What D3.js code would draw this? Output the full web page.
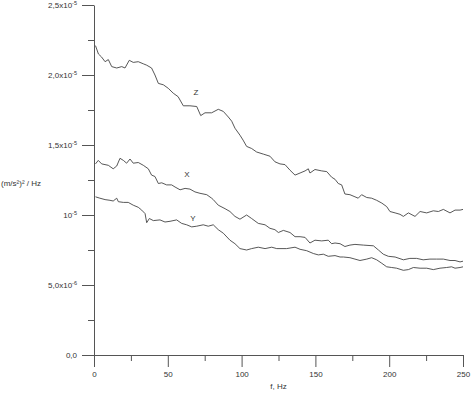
<!DOCTYPE html>
<html>
<head>
<meta charset="utf-8">
<script src="https://cdn.jsdelivr.net/npm/d3@7"></script>
<style>
  body { margin: 0; background: #fff; }
  text { font-family: "Liberation Sans", Arial, sans-serif; fill: #333; }
</style>
</head>
<body>
<div id="chart"></div>
<script>

// frequencies (Hz) and PSD values in units of 1e-6 (m/s²)²/Hz
const freqZ = [1, 3, 5, 7.5, 9.7, 12, 15.4, 18.8, 21, 23.9, 26.6, 30, 33.4, 35.7, 39, 41.3, 43.6, 47, 50.3, 53.7, 57, 60.5, 65, 69.6, 72.3, 75.2, 79.7, 84.2, 87.6, 91, 93.3, 95.5, 98.9, 101, 103.4, 106.8, 110.2, 114.7, 119.2, 122.6, 126, 129.4, 132.8, 136.2, 139.6, 143, 145.2, 146.3, 149.7, 154.3, 157.7, 161, 163.3, 165.5, 167.8, 170, 173.4, 176.8, 179, 181.3, 184.8, 188.1, 191.5, 195, 198.3, 200.5, 204, 207.3, 209.6, 213, 217.5, 220.9, 225.4, 229.9, 233.3, 236.7, 241.2, 244.6, 248, 250];
const psdZ = [22.1, 21.5, 21.3, 20.95, 21.1, 20.6, 20.5, 20.6, 20.5, 21.05, 20.9, 20.95, 20.8, 20.7, 20.5, 20.0, 19.4, 19.3, 19.05, 18.7, 18.45, 17.8, 17.8, 17.75, 17.1, 17.3, 17.3, 17.55, 17.4, 17.0, 16.7, 16.2, 15.7, 15.35, 14.9, 14.75, 14.5, 14.35, 14.2, 13.8, 13.65, 13.6, 13.2, 12.85, 13.0, 13.15, 13.3, 13.0, 13.25, 13.15, 13.1, 12.7, 12.55, 12.25, 12.15, 11.5, 11.45, 11.3, 11.2, 11.45, 11.25, 11.2, 11.05, 10.85, 10.6, 10.25, 10.15, 10.05, 9.9, 10.15, 9.9, 10.25, 10.15, 10.3, 10.25, 10.4, 10.15, 10.35, 10.35, 10.4];

const freqX = [1, 2.9, 5.2, 9.7, 13, 15.4, 17.6, 19.9, 22.1, 24.4, 26.6, 30, 33.4, 36.8, 39, 41.3, 43.6, 45.9, 49.2, 52.6, 54.9, 58.3, 61.7, 65, 68.4, 71.8, 76.4, 79.7, 80.8, 84.2, 88.8, 92.1, 95.5, 98.9, 103.4, 106.8, 111.3, 115.9, 119.2, 122.6, 124.9, 128.3, 132.8, 136.2, 139.6, 143, 146.3, 149.7, 154.3, 158.7, 161, 163.3, 166.7, 170, 173.4, 176.8, 182.5, 189.3, 192.7, 196, 199.4, 204, 209.6, 214, 218.6, 223, 227.6, 232.1, 236.7, 241.2, 244.6, 248, 250];
const psdX = [13.65, 13.9, 13.65, 13.55, 13.3, 13.5, 14.05, 13.9, 13.7, 14.0, 13.7, 13.75, 13.55, 13.3, 12.85, 12.75, 12.25, 12.3, 12.15, 12.15, 12.0, 11.8, 11.9, 11.85, 11.65, 11.55, 11.45, 11.2, 11.1, 10.7, 10.45, 10.25, 9.9, 9.7, 10.0, 9.75, 9.4, 9.3, 9.05, 8.95, 8.75, 8.9, 8.75, 8.45, 8.45, 8.4, 8.0, 8.2, 8.15, 8.2, 7.95, 8.0, 7.95, 7.75, 7.85, 7.9, 7.85, 7.8, 7.5, 7.2, 7.05, 7.0, 6.8, 6.9, 6.9, 6.8, 6.85, 6.85, 6.85, 6.75, 6.75, 6.65, 6.7];

const freqY = [1, 4, 7.5, 10.8, 13, 15.4, 16.5, 19.9, 23.2, 26.6, 30, 32.3, 34.6, 35.7, 37.5, 40.2, 44.7, 48.1, 51.5, 56, 59.4, 62.8, 66.2, 69.6, 74, 77.4, 80.8, 84.2, 87.6, 92.1, 95.5, 98.9, 103.4, 106.8, 111.3, 115.9, 120.4, 123.8, 130.5, 136.2, 139.6, 144.1, 148.6, 152, 155.4, 158.7, 163.3, 166.7, 169, 173.4, 176.8, 180.2, 184.8, 188.1, 191.5, 195, 198.3, 201.7, 205, 209.6, 213, 216.4, 220.9, 225.4, 229.9, 234.4, 238.9, 242.3, 244.6, 248, 250];
const psdY = [11.3, 11.2, 11.1, 11.05, 11.0, 11.2, 10.95, 10.9, 10.9, 10.7, 10.55, 10.35, 10.1, 9.45, 9.75, 9.6, 9.65, 9.5, 9.55, 9.65, 9.4, 9.3, 9.15, 9.2, 9.3, 9.2, 9.3, 8.95, 8.7, 8.2, 7.95, 7.6, 7.5, 7.6, 7.7, 7.6, 7.7, 7.6, 7.6, 7.7, 7.55, 7.45, 7.25, 7.15, 7.2, 7.05, 7.1, 7.0, 7.0, 6.95, 6.85, 6.75, 6.85, 6.95, 6.8, 6.55, 6.3, 6.25, 6.2, 6.05, 6.1, 6.25, 6.2, 6.2, 6.1, 6.2, 6.25, 6.3, 6.2, 6.25, 6.3];

const seriesNames = ["Z", "X", "Y"];
const labelFreq = [69, 63, 67];
const labelPsd = [18.8, 12.93, 9.76];

const xTicks = [0, 50, 100, 150, 200, 250];
const xMinorTicks = [25, 75, 125, 175, 225];
const yTicks = [0, 5, 10, 15, 20, 25];
const yMinorTicks = [2.5, 7.5, 12.5, 17.5, 22.5];
// tick labels: [mantissa text, exponent]
const yTickLabels = [["0,0", null], ["5,0x10", "-6"], ["10", "-5"], ["1,5x10", "-5"], ["2,0x10", "-5"], ["2,5x10", "-5"]];

const width = 472, height = 393;
const margin = {top: 5, right: 9, bottom: 38, left: 94};

const svg = d3.select("#chart").append("svg")
    .attr("width", width)
    .attr("height", height);

const x = d3.scaleLinear().domain([0, 250]).range([margin.left, width - margin.right]);
const y = d3.scaleLinear().domain([0, 25]).range([height - margin.bottom, margin.top]);

const axisColor = "#555";

// x axis
const xAxis = svg.append("g")
    .attr("transform", `translate(0,${y(0)})`)
    .call(d3.axisBottom(x).tickValues(xTicks).tickSize(12).tickSizeOuter(0).tickPadding(4));
xAxis.select(".domain").attr("stroke", axisColor);
xAxis.selectAll(".tick line").attr("stroke", axisColor);
xAxis.selectAll(".tick text")
    .attr("font-size", 8)
    .attr("font-family", "Liberation Sans, Arial, sans-serif")
    .attr("fill", "#444");

svg.append("g")
    .attr("transform", `translate(0,${y(0)})`)
    .call(d3.axisBottom(x).tickValues(xMinorTicks).tickSize(6).tickFormat(""))
    .call(g => g.select(".domain").remove())
    .selectAll(".tick line").attr("stroke", axisColor);

// y axis
const yAxis = svg.append("g")
    .attr("transform", `translate(${x(0)},0)`)
    .call(d3.axisLeft(y).tickValues(yTicks).tickSize(12).tickSizeOuter(0).tickFormat(""));
yAxis.select(".domain").attr("stroke", axisColor);
yAxis.selectAll(".tick line").attr("stroke", axisColor);

svg.append("g")
    .attr("transform", `translate(${x(0)},0)`)
    .call(d3.axisLeft(y).tickValues(yMinorTicks).tickSize(6).tickFormat(""))
    .call(g => g.select(".domain").remove())
    .selectAll(".tick line").attr("stroke", axisColor);

// y tick labels with superscript exponents
const yLab = svg.append("g")
    .selectAll("text")
    .data(yTicks)
    .join("text")
    .attr("x", x(0) - 17)
    .attr("y", d => y(d) + 3)
    .attr("text-anchor", "end")
    .attr("font-size", 8)
    .attr("fill", "#444");
yLab.each(function(d, i) {
    const lab = yTickLabels[i];
    const t = d3.select(this);
    t.append("tspan").text(lab[0]);
    if (lab[1]) {
        t.append("tspan").attr("dy", -3).attr("font-size", 5.5).text(lab[1]);
    }
});

// axis titles
svg.append("text")
    .attr("x", (x(0) + x(250)) / 2)
    .attr("y", 389)
    .attr("text-anchor", "middle")
    .attr("font-size", 8)
    .attr("fill", "#444")
    .text("f, Hz");

svg.append("text")
    .attr("x", 1)
    .attr("y", 186)
    .attr("font-size", 8)
    .attr("fill", "#444")
    .text("(m/s²)² / Hz");

// curves
const line = d3.line()
    .x(d => x(d[0]))
    .y(d => y(d[1]));

const seriesData = [
    d3.zip(freqZ, psdZ),
    d3.zip(freqX, psdX),
    d3.zip(freqY, psdY)
];

svg.append("g")
    .selectAll("path")
    .data(seriesData)
    .join("path")
    .attr("d", line)
    .attr("fill", "none")
    .attr("stroke", "#444")
    .attr("stroke-width", 0.9);

// curve labels
svg.append("g")
    .selectAll("text")
    .data(seriesNames)
    .join("text")
    .attr("x", (d, i) => x(labelFreq[i]))
    .attr("y", (d, i) => y(labelPsd[i]) + 3)
    .attr("text-anchor", "middle")
    .attr("font-size", 8)
    .attr("fill", "#333")
    .text(d => d);

</script>
</body>
</html>
